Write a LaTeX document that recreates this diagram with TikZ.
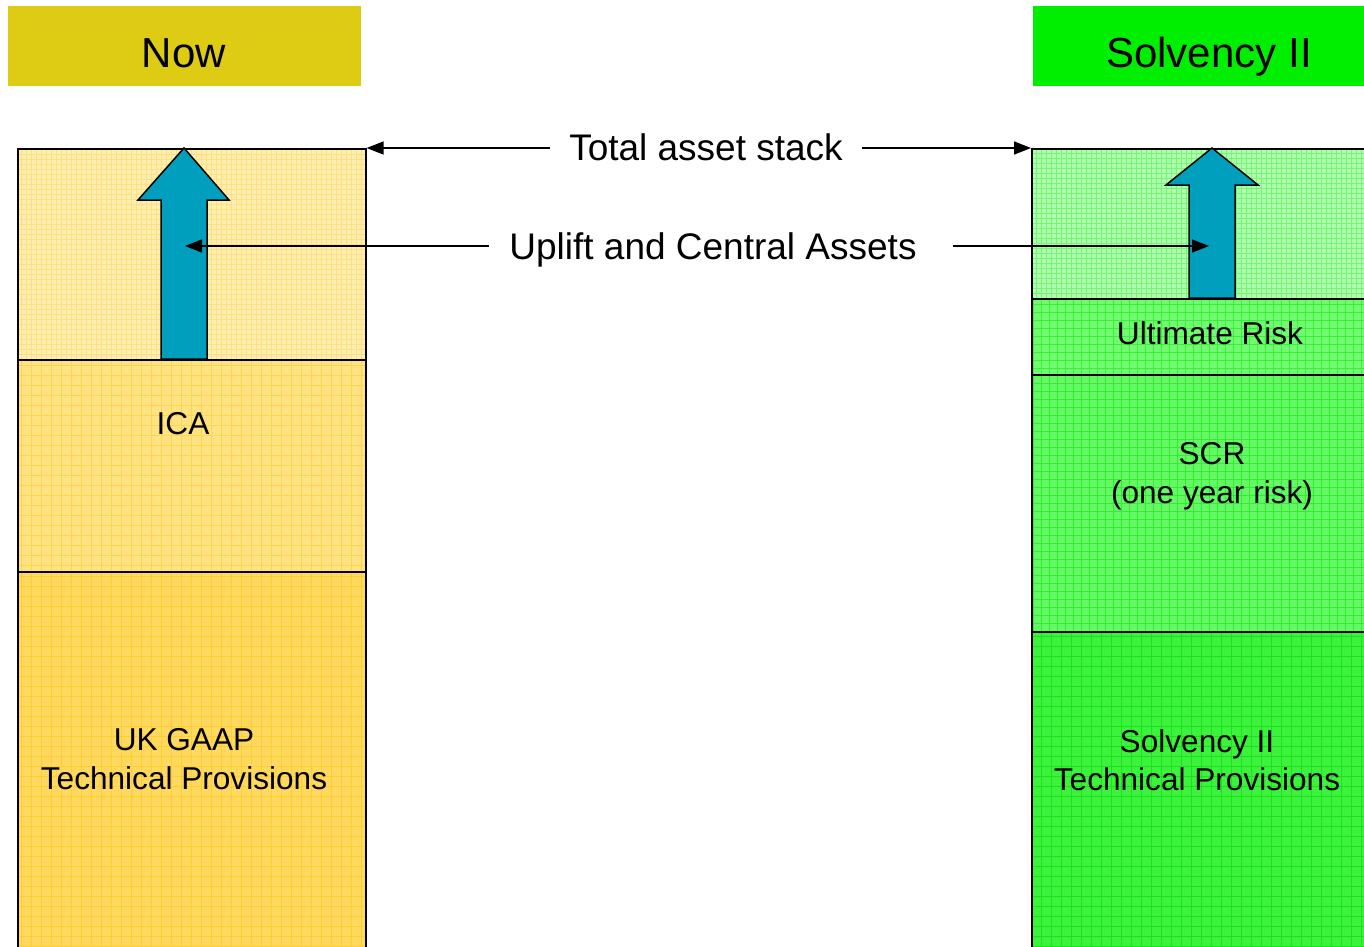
\documentclass[tikz,border=0pt]{standalone}
\usepackage{fontspec}
\setmainfont{Liberation Sans}
\usetikzlibrary{arrows.meta}

\definecolor{nowhead}{RGB}{222,204,20}
\definecolor{siihead}{RGB}{0,238,0}
\definecolor{ytop}{RGB}{255,238,178}
\definecolor{ytopg}{RGB}{255,214,90}
\definecolor{yica}{RGB}{255,226,130}
\definecolor{yicag}{RGB}{255,204,40}
\definecolor{ygaap}{RGB}{255,216,96}
\definecolor{ygaapg}{RGB}{255,198,10}
\definecolor{gtop}{RGB}{176,255,176}
\definecolor{gtopg}{RGB}{70,240,70}
\definecolor{gult}{RGB}{112,250,112}
\definecolor{gultg}{RGB}{20,230,20}
\definecolor{gscr}{RGB}{100,248,100}
\definecolor{gscrg}{RGB}{10,228,10}
\definecolor{gtp}{RGB}{60,242,60}
\definecolor{gtpg}{RGB}{0,215,0}
\definecolor{uplift}{RGB}{0,159,190}

\tikzset{
  headtext/.style={anchor=base, font=\fontsize{42}{48}\selectfont},
  boxtext/.style={align=center, font=\fontsize{31.6}{38.5}\selectfont},
  labeltext/.style={font=\fontsize{37}{44}\selectfont, inner ysep=0pt,
    text height=0.72em, text depth=0.21em},
  blockarrow/.style={fill=uplift, draw=black, line width=1.5pt, line join=miter},
  pointer/.style={line width=1.6pt, -{Triangle[length=17pt,width=13pt]}},
  layer/.style={draw=black, line width=1.6pt, anchor=north west, inner sep=0pt},
}
% fine checked weave inside a layer: #1 = line colour, #2 = spacing
\newcommand{\weave}[2]{\draw[#1, line width=0.7pt, opacity=0.55, step=#2]
  (path picture bounding box.south west) grid (path picture bounding box.north east);}

\begin{document}
\begin{tikzpicture}[x=1pt, y=-1pt]
\useasboundingbox (0,0) rectangle (1364,946);

% column headings
\node[fill=nowhead, anchor=north west, inner sep=0pt,
      minimum width=353pt, minimum height=80pt] (nowhd) at (8,6) {};
\node[headtext] (nowtxt) at (184,67) {Now};
\node[fill=siihead, anchor=north west, inner sep=0pt,
      minimum width=331pt, minimum height=80pt] (siihd) at (1033,6) {};
\node[headtext] (siitxt) at (1209,67) {Solvency II};

\begin{scope}
\clip (0,0) rectangle (1364,946);
% current regime stack
\node[layer, fill=ytop, minimum width=348pt, minimum height=211pt,
      path picture={\weave{ytopg}{5pt}}] (ltop) at (17,148) {};
\node[layer, fill=yica, minimum width=348pt, minimum height=212pt,
      path picture={\weave{yicag}{10pt}}] (lica) at (17,359) {};
\node[layer, fill=ygaap, minimum width=348pt, minimum height=390pt,
      path picture={\weave{ygaapg}{10pt}}] (lgaap) at (17,571) {};

% Solvency II stack
\node[layer, fill=gtop, minimum width=340pt, minimum height=150pt,
      path picture={\weave{gtopg}{5pt}}] (rtop) at (1031,148) {};
\node[layer, fill=gult, minimum width=340pt, minimum height=76pt,
      path picture={\weave{gultg}{8pt}}] (rult) at (1031,298) {};
\node[layer, fill=gscr, minimum width=340pt, minimum height=257pt,
      path picture={\weave{gscrg}{8pt}}] (rscr) at (1031,374) {};
\node[layer, fill=gtp, minimum width=340pt, minimum height=330pt,
      path picture={\weave{gtpg}{10pt}}] (rtp) at (1031,631) {};
\end{scope}

% layer labels
\node[boxtext] (icatxt) at (183,424) {ICA};
\node[boxtext] (gaaptxt) at (184,759) {UK GAAP\\Technical Provisions};
\node[boxtext] (ulttxt) at (1210,333) {Ultimate Risk};
\node[boxtext] (scrtxt) at (1212,476) {SCR\\(one year risk)};
\node[boxtext] (tptxt) at (1197,760) {Solvency II\\Technical Provisions};

% uplift block arrows
\draw[blockarrow] (161,359) -- (161,200) -- (138,200) -- (184,148) -- (229,200)
  -- (207,200) -- (207,359) -- cycle;
\draw[blockarrow] (1189,298) -- (1189,185) -- (1166,185) -- (1212,148) -- (1258,185)
  -- (1235,185) -- (1235,298) -- cycle;
\coordinate (lupl) at (185,246);
\coordinate (rupl) at (1209,246);

% labelled pointers
\node[labeltext, inner xsep=19pt] (total) at (706,158) {Total asset stack};
\draw[pointer] (total.west |- ltop.north east) -- (ltop.north east);
\draw[pointer] (total.east |- rtop.north west) -- (rtop.north west);

\node[labeltext, inner xsep=20pt] (upl) at (713,257) {Uplift and Central Assets};
\draw[pointer] (upl.west |- lupl) -- (lupl);
\draw[pointer] ([xshift=16pt]upl.east |- rupl) -- (rupl);
\end{tikzpicture}
\end{document}
